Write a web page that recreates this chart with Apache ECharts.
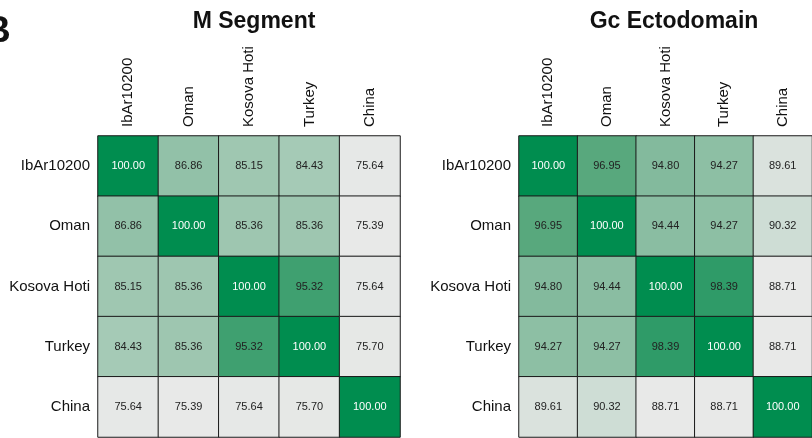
<!DOCTYPE html>
<html>
<head>
<meta charset="utf-8">
<script src="https://cdn.jsdelivr.net/npm/echarts@6/dist/echarts.min.js"></script>
<style>html,body{margin:0;padding:0;background:#fff}#c{width:812px;height:438px}</style>
</head>
<body>
<div id="c"></div>
<script>
var strains = ['IbAr10200', 'Oman', 'Kosova Hoti', 'Turkey', 'China'];
var titleM = 'M Segment';
var titleGc = 'Gc Ectodomain';
// rows in order of strains
var mSegment = [
  [100.00, 86.86, 85.15, 84.43, 75.64],
  [86.86, 100.00, 85.36, 85.36, 75.39],
  [85.15, 85.36, 100.00, 95.32, 75.64],
  [84.43, 85.36, 95.32, 100.00, 75.70],
  [75.64, 75.39, 75.64, 75.70, 100.00]
];
var gcEcto = [
  [100.00, 96.95, 94.80, 94.27, 89.61],
  [96.95, 100.00, 94.44, 94.27, 90.32],
  [94.80, 94.44, 100.00, 98.39, 88.71],
  [94.27, 94.27, 98.39, 100.00, 88.71],
  [89.61, 90.32, 88.71, 88.71, 100.00]
];
var colorStops = ['#e8e9e8', '#bbd4c6', '#8cbea3', '#53a67a', '#008d4f'];

function toData(m) {
  var out = [];
  for (var r = 0; r < m.length; r++) {
    for (var c = 0; c < m[r].length; c++) {
      var v = m[r][c];
      out.push({ value: [c, r, v], label: { color: v >= 99.99 ? '#ffffff' : '#222222' } });
    }
  }
  return out;
}
function flatMin(m) { return Math.min.apply(null, [].concat.apply([], m)); }
function flatMax(m) { return Math.max.apply(null, [].concat.apply([], m)); }

var FONT = 'Liberation Sans, Arial, Helvetica, sans-serif';
function xAx(i) {
  return { type: 'category', data: strains, position: 'top', gridIndex: i,
    axisLine: { show: false }, axisTick: { show: false }, splitLine: { show: false },
    axisLabel: { rotate: -90, margin: 9, fontSize: 15, color: '#111', fontFamily: FONT, interval: 0 } };
}
function yAx(i) {
  return { type: 'category', data: strains, inverse: true, gridIndex: i,
    axisLine: { show: false }, axisTick: { show: false }, splitLine: { show: false },
    axisLabel: { margin: 8, fontSize: 15, color: '#111', fontFamily: FONT, interval: 0 } };
}
function series(i, m) {
  return { type: 'heatmap', xAxisIndex: i, yAxisIndex: i, data: toData(m),
    label: { show: true, fontSize: 11, fontFamily: FONT, formatter: function (p) { return p.value[2].toFixed(2); } },
    itemStyle: { borderColor: '#1a1a1a', borderWidth: 1 },
    emphasis: { disabled: true } };
}

var chart = echarts.init(document.getElementById('c'));
chart.setOption({
  animation: false,
  backgroundColor: '#fff',
  title: [
    { text: titleM, left: 249, top: 5, textAlign: 'center', textStyle: { fontSize: 23, fontWeight: 'bold', color: '#111', fontFamily: FONT } },
    { text: titleGc, left: 669, top: 5, textAlign: 'center', textStyle: { fontSize: 23, fontWeight: 'bold', color: '#111', fontFamily: FONT } }
  ],
  graphic: [
    { type: 'text', left: -16, top: 13, style: { text: 'B', fontSize: 37, fontWeight: 'bold', fill: '#111', fontFamily: FONT } }
  ],
  grid: [
    { left: 98, top: 136, width: 302, height: 301 },
    { left: 519, top: 136, width: 301, height: 301 }
  ],
  xAxis: [xAx(0), xAx(1)],
  yAxis: [yAx(0), yAx(1)],
  visualMap: [
    { show: false, seriesIndex: 0, dimension: 2, min: flatMin(mSegment), max: flatMax(mSegment), inRange: { color: colorStops } },
    { show: false, seriesIndex: 1, dimension: 2, min: flatMin(gcEcto), max: flatMax(gcEcto), inRange: { color: colorStops } }
  ],
  series: [series(0, mSegment), series(1, gcEcto)]
});
</script>
</body>
</html>
